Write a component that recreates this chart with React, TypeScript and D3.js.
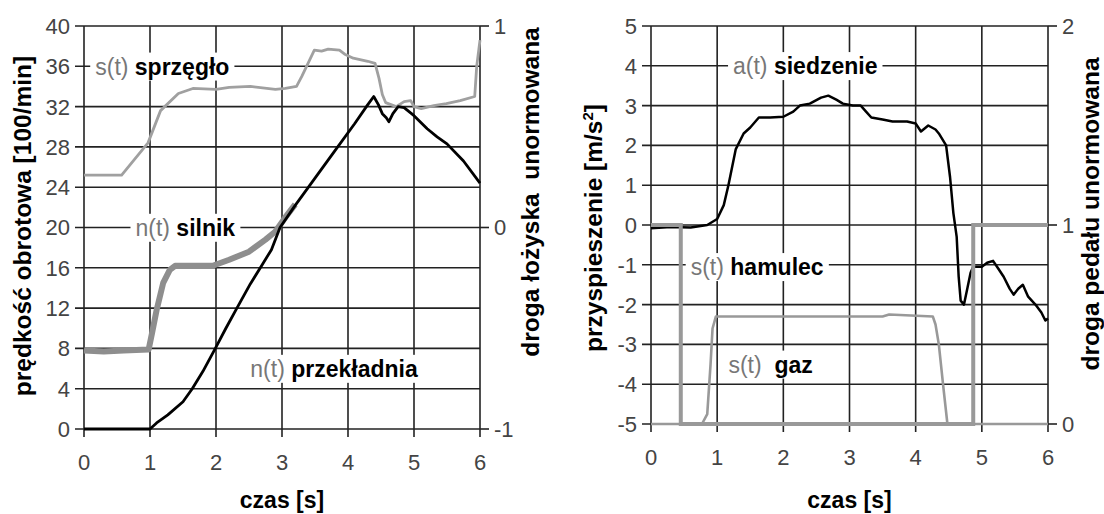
import React, { useEffect, useRef } from "react";
import * as d3 from "d3";

// ---------- data (left chart) ----------
const xTicks = [0, 1, 2, 3, 4, 5, 6];
const leftYTicks = [0, 4, 8, 12, 16, 20, 24, 28, 32, 36, 40];
const leftRTicks = [-1, 0, 1];

// s(t) sprzęgło (right axis, -1..1)
const sprzegloT = [0, 0.57, 0.97, 1.16, 1.43, 1.65, 2.0, 2.2, 2.52, 2.9, 3.05, 3.22, 3.3, 3.49, 3.6, 3.7, 3.87, 3.95, 4.08, 4.3, 4.41, 4.47, 4.52, 4.57, 4.73, 4.85, 4.95, 5.0, 5.11, 5.3, 5.49, 5.7, 5.92, 5.95, 6.0];
const sprzegloV = [0.26, 0.26, 0.42, 0.58, 0.665, 0.69, 0.685, 0.695, 0.7, 0.685, 0.69, 0.7, 0.75, 0.88, 0.875, 0.885, 0.88, 0.86, 0.84, 0.825, 0.815, 0.74, 0.66, 0.62, 0.6, 0.625, 0.63, 0.6, 0.59, 0.605, 0.615, 0.63, 0.65, 0.8, 0.93];

// n(t) silnik (left axis)
const silnikT = [0, 0.3, 0.6, 0.98, 1.03, 1.1, 1.2, 1.3, 1.38, 1.6, 1.95, 2.2, 2.5, 2.75, 2.9, 3.05, 3.2];
const silnikV = [7.8, 7.7, 7.8, 7.9, 9.5, 11.8, 14.5, 15.8, 16.2, 16.2, 16.2, 16.8, 17.6, 18.8, 19.6, 21, 22.3];

// n(t) przekładnia (left axis)
const przekladniaT = [0, 1.0, 1.1, 1.27, 1.5, 1.64, 1.8, 1.99, 2.15, 2.3, 2.52, 2.7, 2.84, 2.97, 3.2, 3.5, 3.8, 4.1, 4.3, 4.39, 4.46, 4.52, 4.58, 4.62, 4.68, 4.76, 4.85, 5.0, 5.2, 5.35, 5.5, 5.75, 6.0];
const przekladniaV = [0, 0, 0.6, 1.4, 2.7, 4.0, 5.7, 8.0, 10.0, 11.8, 14.4, 16.3, 17.8, 20.0, 22.2, 24.9, 27.6, 30.3, 32.2, 33.0, 32.2, 31.3, 30.9, 30.5, 31.3, 32.0, 31.9, 31.1, 29.8, 29.0, 28.3, 26.6, 24.4];

// ---------- data (right chart) ----------
const rightYTicks = [-5, -4, -3, -2, -1, 0, 1, 2, 3, 4, 5];
const rightRTicks = [0, 1, 2];

const siedzenieT = [0, 0.3, 0.6, 0.85, 1.0, 1.1, 1.17, 1.28, 1.4, 1.5, 1.63, 1.8, 2.0, 2.15, 2.25, 2.4, 2.57, 2.68, 2.8, 2.9, 3.05, 3.17, 3.25, 3.33, 3.5, 3.65, 3.87, 4.0, 4.08, 4.19, 4.3, 4.35, 4.46, 4.52, 4.57, 4.62, 4.65, 4.68, 4.73, 4.78, 4.83, 4.87, 5.0, 5.08, 5.17, 5.25, 5.33, 5.42, 5.48, 5.55, 5.62, 5.7, 5.81, 5.9, 5.96, 6.0];
const siedzenieV = [-0.08, -0.05, -0.06, 0, 0.15, 0.5, 1.0, 1.9, 2.3, 2.45, 2.7, 2.7, 2.72, 2.85, 3.0, 3.05, 3.2, 3.25, 3.15, 3.05, 3.0, 3.0, 2.85, 2.7, 2.65, 2.6, 2.6, 2.55, 2.35, 2.5, 2.4, 2.3, 2.0, 1.2, 0.3, -0.3, -1.3, -1.9, -2.0, -1.6, -1.2, -1.05, -1.05, -0.95, -0.9, -1.1, -1.3, -1.6, -1.75, -1.6, -1.5, -1.8, -2.0, -2.2, -2.4, -2.35];

// s(t) hamulec (right axis 0..2)
const hamulecT = [0, 0.45, 0.45, 4.87, 4.87, 6.0];
const hamulecV = [1, 1, 0, 0, 1, 1];

// s(t) gaz (right axis 0..2)
const gazT = [0, 0.77, 0.85, 0.9, 0.93, 0.98, 2.0, 3.5, 3.6, 4.26, 4.3, 4.35, 4.42, 4.48, 6.0];
const gazV = [0, 0, 0.05, 0.3, 0.48, 0.54, 0.54, 0.54, 0.55, 0.54, 0.5, 0.4, 0.18, 0, 0];

// annotation labels
const leftLabels = [
  { pre: "s(t)", main: "sprzęgło", x: 0.17, y: 36 },
  { pre: "n(t)", main: "silnik", x: 0.78, y: 20 },
  { pre: "n(t)", main: "przekładnia", x: 2.52, y: 6 },
];
const rightLabels = [
  { pre: "a(t)", main: "siedzenie", x: 1.24, y: 4 },
  { pre: "s(t)", main: "hamulec", x: 0.6, y: -1.05 },
  { pre: "s(t) ", main: "gaz", x: 1.17, y: -3.5 },
];

const FONT = "'Liberation Sans', Arial, Helvetica, sans-serif";

export default function App() {
  const ref = useRef<SVGSVGElement>(null);

  useEffect(() => {
    const svg = d3.select(ref.current);
    svg.selectAll("*").remove();
    svg.append("rect").attr("width", 1104).attr("height", 514).attr("fill", "#fff");

    type Cfg = {
      x0: number; x1: number; yTop: number; yBot: number;
      yDom: [number, number]; rDom: [number, number];
      yTicks: number[]; rTicks: number[];
      leftTitle: string; leftTitleX: number; leftTitleY: number;
      rightTitle: string; rightTitleX: number; rightTitleY: number;
      sup?: boolean;
    };

    const drawFrame = (c: Cfg) => {
      const x = d3.scaleLinear().domain([0, 6]).range([c.x0, c.x1]);
      const y = d3.scaleLinear().domain(c.yDom).range([c.yBot, c.yTop]);
      const r = d3.scaleLinear().domain(c.rDom).range([c.yBot, c.yTop]);
      const g = svg.append("g");
      g.selectAll(".hg").data(c.yTicks).enter().append("line")
        .attr("x1", c.x0 - 9).attr("x2", c.x1)
        .attr("y1", (d) => y(d)).attr("y2", (d) => y(d))
        .attr("stroke", "#222").attr("stroke-width", 1.6);
      g.selectAll(".vg").data(xTicks).enter().append("line")
        .attr("x1", (d) => x(d)).attr("x2", (d) => x(d))
        .attr("y1", c.yTop).attr("y2", c.yBot + 8)
        .attr("stroke", "#222").attr("stroke-width", 1.6);
      g.selectAll(".rt").data(c.rTicks).enter().append("line")
        .attr("x1", c.x1).attr("x2", c.x1 + 9)
        .attr("y1", (d) => r(d)).attr("y2", (d) => r(d))
        .attr("stroke", "#222").attr("stroke-width", 1.6);
      g.selectAll(".yl").data(c.yTicks).enter().append("text")
        .attr("x", c.x0 - 14).attr("y", (d) => y(d)).attr("dy", "0.36em")
        .attr("text-anchor", "end").attr("font-family", FONT).attr("font-size", 22)
        .attr("fill", "#444").text((d) => String(d));
      g.selectAll(".rl").data(c.rTicks).enter().append("text")
        .attr("x", c.x1 + 14).attr("y", (d) => r(d)).attr("dy", "0.36em")
        .attr("text-anchor", "start").attr("font-family", FONT).attr("font-size", 22)
        .attr("fill", "#444").text((d) => String(d));
      g.selectAll(".xl").data(xTicks).enter().append("text")
        .attr("x", (d) => x(d)).attr("y", c.yBot + 33)
        .attr("dy", "0.36em")
        .attr("text-anchor", "middle").attr("font-family", FONT).attr("font-size", 22)
        .attr("fill", "#444").text((d) => String(d));
      g.append("text").attr("x", (c.x0 + c.x1) / 2).attr("y", 500).attr("dy", "0.36em")
        .attr("text-anchor", "middle").attr("font-family", FONT).attr("font-size", 23)
        .attr("font-weight", "bold").attr("fill", "#000").text("czas [s]");
      const lt = g.append("text")
        .attr("transform", `translate(${c.leftTitleX},${c.leftTitleY}) rotate(-90)`)
        .attr("dy", "0.36em").attr("text-anchor", "middle").attr("font-family", FONT)
        .attr("font-size", 24.5).attr("font-weight", "bold").attr("fill", "#000");
      if (c.sup) {
        lt.append("tspan").text(c.leftTitle);
        lt.append("tspan").attr("dy", -9).attr("font-size", 15).text("2");
        lt.append("tspan").attr("dy", 9).text("]");
      } else {
        lt.text(c.leftTitle);
      }
      g.append("text")
        .attr("transform", `translate(${c.rightTitleX},${c.rightTitleY}) rotate(-90)`)
        .attr("dy", "0.36em").attr("text-anchor", "middle").attr("font-family", FONT)
        .attr("font-size", 24.5).attr("font-weight", "bold").attr("fill", "#000")
        .style("white-space", "pre").text(c.rightTitle);
      return { x, y, r };
    };

    const addLabels = (
      labels: { pre: string; main: string; x: number; y: number }[],
      x: d3.ScaleLinear<number, number>, y: d3.ScaleLinear<number, number>
    ) => {
      labels.forEach((l) => {
        const g = svg.append("g");
        const bg = g.append("rect").attr("fill", "#fff");
        const t = g.append("text").attr("x", x(l.x)).attr("y", y(l.y)).attr("dy", "0.36em")
          .attr("font-family", FONT).attr("font-size", 23).style("white-space", "pre");
        t.append("tspan").attr("fill", "#777").text(l.pre + " ");
        t.append("tspan").attr("fill", "#000").attr("font-weight", "bold").text(l.main);
        const bb = (t.node() as SVGTextElement).getBBox();
        bg.attr("x", bb.x - 5).attr("y", bb.y - 1).attr("width", bb.width + 10).attr("height", bb.height + 2);
      });
    };

    // ---------- left chart ----------
    const L = drawFrame({
      x0: 84, x1: 480, yTop: 26, yBot: 429, yDom: [0, 40], rDom: [-1, 1],
      yTicks: leftYTicks, rTicks: leftRTicks,
      leftTitle: "prędkość obrotowa [100/min]", leftTitleX: 22, leftTitleY: 226,
      rightTitle: "droga łożyska  unormowana", rightTitleX: 530, rightTitleY: 192,
    });
    addLabels(leftLabels, L.x, L.y);
    const lineL = (xs: number[], ys: number[], sc: d3.ScaleLinear<number, number>) =>
      d3.line<number>().x((_, i) => L.x(xs[i])).y((_, i) => sc(ys[i]))(xs) as string;
    svg.append("path").attr("d", lineL(silnikT, silnikV, L.y)).attr("fill", "none")
      .attr("stroke", "#8e8e8e").attr("stroke-width", 6).attr("stroke-linejoin", "round");
    svg.append("path").attr("d", lineL(sprzegloT, sprzegloV, L.r)).attr("fill", "none")
      .attr("stroke", "#a0a0a0").attr("stroke-width", 2.8).attr("stroke-linejoin", "round");
    svg.append("path").attr("d", lineL(przekladniaT, przekladniaV, L.y)).attr("fill", "none")
      .attr("stroke", "#000").attr("stroke-width", 2.8).attr("stroke-linejoin", "round");

    // ---------- right chart ----------
    const R = drawFrame({
      x0: 651, x1: 1048, yTop: 26, yBot: 424, yDom: [-5, 5], rDom: [0, 2],
      yTicks: rightYTicks, rTicks: rightRTicks,
      leftTitle: "przyspieszenie [m/s", leftTitleX: 593, leftTitleY: 228, sup: true,
      rightTitle: "droga pedału unormowana", rightTitleX: 1090, rightTitleY: 214,
    });
    addLabels(rightLabels, R.x, R.y);
    const lineR = (xs: number[], ys: number[], sc: d3.ScaleLinear<number, number>) =>
      d3.line<number>().x((_, i) => R.x(xs[i])).y((_, i) => sc(ys[i]))(xs) as string;
    svg.append("path").attr("d", lineR(siedzenieT, siedzenieV, R.y)).attr("fill", "none")
      .attr("stroke", "#000").attr("stroke-width", 2.5).attr("stroke-linejoin", "round");
    svg.append("path").attr("d", lineR(gazT, gazV, R.r)).attr("fill", "none")
      .attr("stroke", "#999").attr("stroke-width", 2.6).attr("stroke-linejoin", "round");
    svg.append("path").attr("d", lineR(hamulecT, hamulecV, R.r)).attr("fill", "none")
      .attr("stroke", "#999").attr("stroke-width", 4).attr("stroke-linejoin", "miter");
  }, []);

  return (
    <svg ref={ref} width={1104} height={514}
      style={{ position: "absolute", left: 0, top: 0, display: "block" }} />
  );
}
